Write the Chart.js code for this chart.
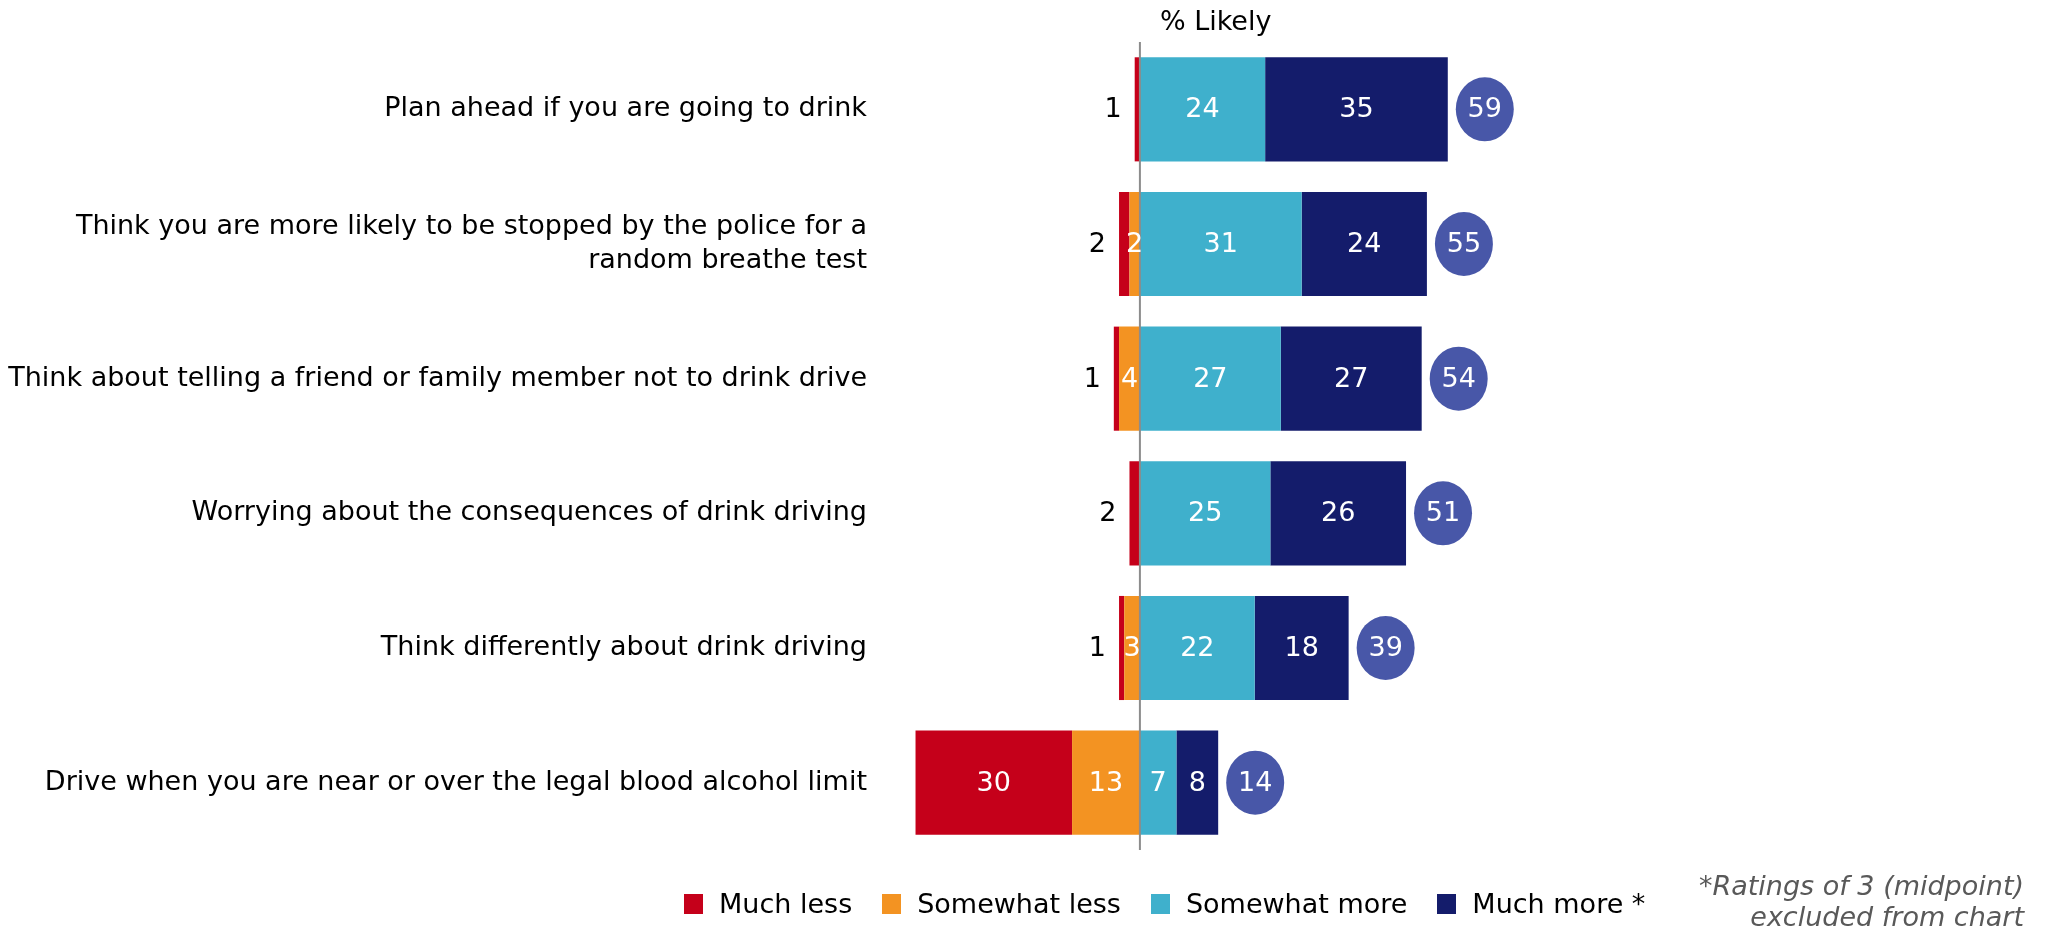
<!DOCTYPE html>
<html>
<head>
<meta charset="utf-8">
<title>Likelihood of drink driving behaviours</title>
<script src="https://cdn.jsdelivr.net/npm/chart.js@4/dist/chart.umd.min.js"></script>
<style>
  body { margin: 0; background: #fff; font-family: "DejaVu Sans", Verdana, sans-serif; }
  #wrap { position: relative; width: 2045px; height: 928px; }
  #legend { position: absolute; left: 684px; top: 888px; display: flex; align-items: center; font-size: 27px; color: #000; }
  #legend .item { display: flex; align-items: center; margin-right: 30px; }
  #legend .box { width: 19px; height: 20px; margin-right: 16px; }
  #note { position: absolute; right: 21px; top: 870px; text-align: right; font-style: italic; font-size: 27px; line-height: 31px; color: #595959; }
</style>
</head>
<body>
<div id="wrap">
  <canvas id="chart" width="2045" height="928"></canvas>
  <div id="legend"></div>
  <div id="note">*Ratings of 3 (midpoint)<br>excluded from chart</div>
</div>
<script>
const categories = [
  "Plan ahead if you are going to drink",
  ["Think you are more likely to be stopped by the police for a", "random breathe test"],
  "Think about telling a friend or family member not to drink drive",
  "Worrying about the consequences of drink driving",
  "Think differently about drink driving",
  "Drive when you are near or over the legal blood alcohol limit"
];

const muchLess = [1, 2, 1, 2, 1, 30];
const somewhatLess = [0, 2, 4, 0, 3, 13];
const somewhatMore = [24, 31, 27, 25, 22, 7];
const muchMore = [35, 24, 27, 26, 18, 8];
const netLikely = [59, 55, 54, 51, 39, 14];

const colors = {
  muchLess: "#C5001A",
  somewhatLess: "#F39322",
  somewhatMore: "#3FB0CC",
  muchMore: "#141C6B",
  net: "#4857A8"
};

const FONT = '"DejaVu Sans", Verdana, sans-serif';

// Legend in the usual reading order
const legendItems = [
  ["Much less", colors.muchLess],
  ["Somewhat less", colors.somewhatLess],
  ["Somewhat more", colors.somewhatMore],
  ["Much more *", colors.muchMore]
];
const legendEl = document.getElementById("legend");
legendItems.forEach(([text, col]) => {
  const item = document.createElement("div");
  item.className = "item";
  item.innerHTML = `<span class="box" style="background:${col}"></span><span>${text}</span>`;
  legendEl.appendChild(item);
});

// Zero line, value labels, net circles and the "% Likely" heading
const overlay = {
  id: "overlay",
  afterDatasetsDraw(chart) {
    const ctx = chart.ctx;
    const xs = chart.scales.x;
    const area = chart.chartArea;
    const zero = xs.getPixelForValue(0);

    ctx.save();
    ctx.strokeStyle = "#8C8C8C";
    ctx.lineWidth = 2;
    ctx.beginPath();
    ctx.moveTo(zero, area.top);
    ctx.lineTo(zero, area.bottom);
    ctx.stroke();

    ctx.font = "27px " + FONT;
    ctx.textBaseline = "middle";
    chart.data.datasets.forEach((ds, di) => {
      const meta = chart.getDatasetMeta(di);
      meta.data.forEach((bar, i) => {
        const v = Math.abs(ds.data[i]);
        if (!v) return;
        const left = Math.min(bar.x, bar.base);
        const w = Math.abs(bar.x - bar.base);
        if (ds.label === "Much less" && w < 30) {
          ctx.fillStyle = "#000";
          ctx.textAlign = "right";
          ctx.fillText(v, left - 13, bar.y + 1);
        } else {
          ctx.fillStyle = "#fff";
          ctx.textAlign = "center";
          ctx.fillText(v, left + w / 2, bar.y + 1);
        }
      });
    });

    // net likely bubbles sit just past the end of each bar
    const outer = chart.getDatasetMeta(3);
    outer.data.forEach((bar, i) => {
      const cx = bar.x + 37;
      ctx.fillStyle = colors.net;
      ctx.beginPath();
      ctx.ellipse(cx, bar.y, 29, 32, 0, 0, Math.PI * 2);
      ctx.fill();
      ctx.fillStyle = "#fff";
      ctx.textAlign = "center";
      ctx.fillText(netLikely[i], cx, bar.y + 1);
    });

    ctx.fillStyle = "#000";
    ctx.font = "27px " + FONT;
    ctx.textAlign = "left";
    ctx.fillText("% Likely", zero + 20, 23);
    ctx.restore();
  }
};

new Chart(document.getElementById("chart"), {
  type: "bar",
  data: {
    labels: categories,
    datasets: [
      { label: "Somewhat less", data: somewhatLess.map(v => -v), backgroundColor: colors.somewhatLess },
      { label: "Much less", data: muchLess.map(v => -v), backgroundColor: colors.muchLess },
      { label: "Somewhat more", data: somewhatMore, backgroundColor: colors.somewhatMore },
      { label: "Much more", data: muchMore, backgroundColor: colors.muchMore }
    ]
  },
  options: {
    indexAxis: "y",
    responsive: false,
    animation: false,
    datasets: { bar: { categoryPercentage: 1, barPercentage: 0.773 } },
    layout: { padding: { top: 42, bottom: 78, right: 18, left: 0 } },
    plugins: { legend: { display: false }, tooltip: { enabled: false } },
    scales: {
      x: { stacked: true, min: -50, max: 170, display: false },
      y: {
        stacked: true,
        grid: { display: false, drawTicks: false },
        border: { display: false },
        ticks: { color: "#000", padding: 12, font: { family: FONT, size: 27, lineHeight: 1.25 } },
        afterFit(scale) { scale.width = 879; }
      }
    }
  },
  plugins: [overlay]
});
</script>
</body>
</html>
